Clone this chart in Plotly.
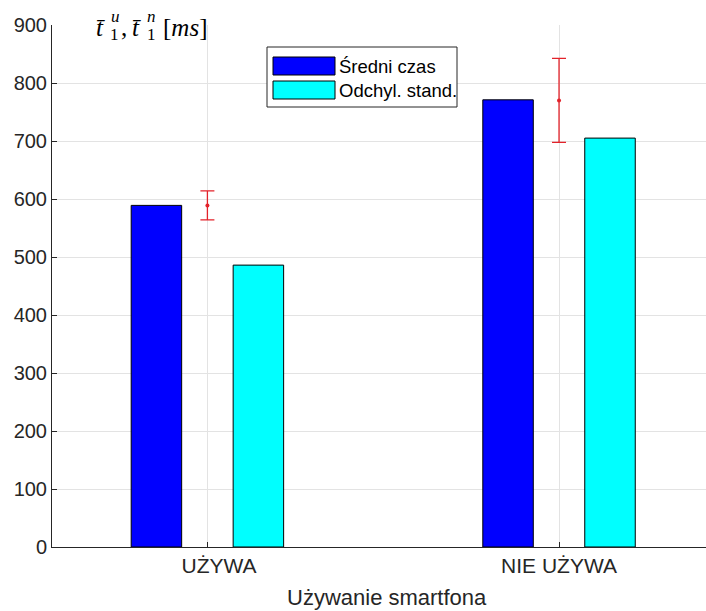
import plotly.graph_objects as go

# ---- data ----
categories = ["UŻYWA", "NIE UŻYWA"]
tick_labels = ["\u00a0\u00a0\u00a0\u00a0UŻYWA", "NIE UŻYWA"]
mean_time = [589, 771]
std_dev = [486, 705]
err_center = [589, 770]
err_half = [25, 72.5]
y_ticks = [0, 100, 200, 300, 400, 500, 600, 700, 800, 900]
series_names = ["Średni czas", "Odchyl. stand."]

W, H = 706, 611
L, R, T, B = 52, 0, 25, 64
PW, PH = W - L - R, H - T - B

xpos = [i + 1 for i in range(len(categories))]
bar_w = 0.1436
off = 0.145

AX = "#262626"
FONT = "Liberation Sans"

fig = go.Figure()
fig.add_trace(go.Bar(x=xpos, y=mean_time, width=bar_w, offset=-off - bar_w / 2,
                     marker=dict(color="#0000ff", line=dict(color="#000000", width=1)),
                     name=series_names[0], showlegend=False))
fig.add_trace(go.Bar(x=xpos, y=std_dev, width=bar_w, offset=off - bar_w / 2,
                     marker=dict(color="#00ffff", line=dict(color="#000000", width=1)),
                     name=series_names[1], showlegend=False))
fig.add_trace(go.Scatter(x=xpos, y=err_center, mode="markers",
                         marker=dict(color="#e3222a", size=4),
                         error_y=dict(type="data", array=err_half, color="#e3222a",
                                      thickness=1.3, width=7),
                         showlegend=False))

fig.update_layout(
    width=W, height=H,
    margin=dict(l=L, r=R, t=T, b=B, pad=0),
    plot_bgcolor="white", paper_bgcolor="white",
    barmode="overlay",
    font=dict(family=FONT, color=AX),
    xaxis=dict(range=[0.558, 2.418], tickvals=xpos, ticktext=tick_labels,
               showgrid=True, gridcolor="#e3e3e3", gridwidth=1,
               showline=True, linecolor=AX, linewidth=1,
               ticks="inside", ticklen=5, tickcolor=AX,
               tickfont=dict(size=21, color=AX, family=FONT), zeroline=False),
    yaxis=dict(range=[0, 900], tickvals=y_ticks, ticksuffix="\u00a0",
               showgrid=True, gridcolor="#e3e3e3", gridwidth=1,
               showline=True, linecolor=AX, linewidth=1,
               ticks="inside", ticklen=5, tickcolor=AX,
               tickfont=dict(size=20, color=AX, family=FONT), zeroline=False),
)

def px(x):
    return (x - L) / PW

def py(y):
    return (H - B - y) / PH

# x axis label
fig.add_annotation(text="Używanie smartfona", xref="paper", yref="paper",
                   x=px(387), y=py(597), xanchor="center", yanchor="middle",
                   showarrow=False, font=dict(size=22, color=AX, family=FONT))

# manual legend
fig.add_shape(type="rect", xref="paper", yref="paper", x0=px(267), x1=px(457),
              y0=py(107), y1=py(47), line=dict(color=AX, width=1), fillcolor="white")
leg_colors = ["#0000ff", "#00ffff"]
for i, (nm, c) in enumerate(zip(series_names, leg_colors)):
    yc = 66 + i * 24
    fig.add_shape(type="rect", xref="paper", yref="paper", x0=px(273), x1=px(335),
                  y0=py(yc + 9), y1=py(yc - 9), line=dict(color="#000000", width=1),
                  fillcolor=c)
    fig.add_annotation(text=nm, xref="paper", yref="paper", x=px(337), y=py(yc),
                       xanchor="left", yanchor="middle", showarrow=False,
                       font=dict(size=18.5, color="#000000", family=FONT))

# y title (math-like)
SERIF = "Liberation Serif"
pieces = [
    ("<i>t\u0304</i>", 94, 25, 27),
    ("1", 108, 17, 34),
    ("<i>u</i>", 109, 17, 16),
    (",", 119, 25, 27),
    ("<i>t\u0304</i>", 130, 25, 27),
    ("1", 145, 17, 34),
    ("<i>n</i>", 145, 17, 16),
    ("[<i>ms</i>]", 161, 25, 27),
]
for txt, xx, fs, yy in pieces:
    fig.add_annotation(text=txt, xref="paper", yref="paper", x=px(xx), y=py(yy),
                       xanchor="left", yanchor="middle", showarrow=False,
                       font=dict(size=fs, color="#000000", family=SERIF))

fig.write_html("out.html", config={"displayModeBar": False},
               post_script="document.body.style.margin='0';")
